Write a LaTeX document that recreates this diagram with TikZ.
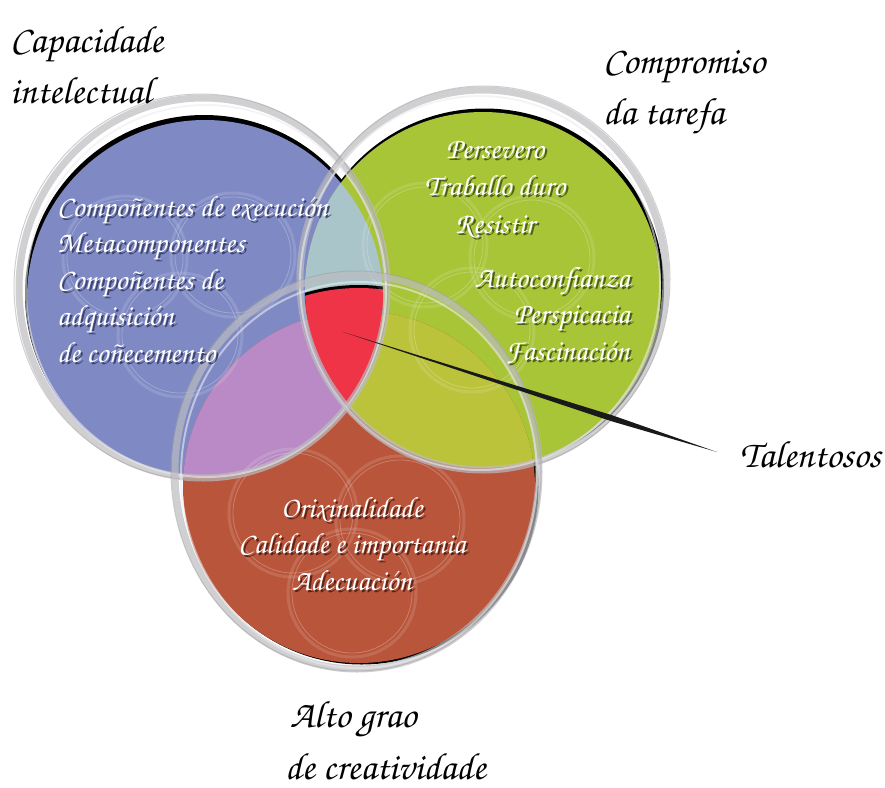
\documentclass[tikz,border=0pt]{standalone}
\usepackage[T1,TU]{fontenc}
\usetikzlibrary{calc}
\definecolor{cblue}{HTML}{7F8AC5}
\definecolor{cgreen}{HTML}{A8C437}
\definecolor{cred}{HTML}{B9553B}
\definecolor{clens}{HTML}{A9C5C9}
\definecolor{cpurple}{HTML}{B98AC5}
\definecolor{colive}{HTML}{BBC33B}
\definecolor{ctri}{HTML}{EE3446}
\definecolor{ringgray}{HTML}{BCBCC1}
\definecolor{shB}{HTML}{3E4470}
\definecolor{shG}{HTML}{4E5E18}
\definecolor{shR}{HTML}{5A2418}
\newcommand\scr{\fontencoding{T1}\fontfamily{pzc}\fontseries{mb}\fontshape{it}\selectfont}
\newcommand\shd[2]{\makebox[0pt][l]{\hspace{2pt}\raisebox{-2pt}{\textcolor{#1}{#2}}}#2}
\tikzset{
  ring/.style={draw=ringgray, line width=7pt, opacity=0.7},
  ringthin/.style={draw=gray!75, line width=1pt, opacity=0.5},
  ringlight/.style={draw=white!85!gray, line width=2pt, opacity=0.6},
  faint/.style={draw=white, line width=3pt, opacity=0.13},
  faintthin/.style={draw=white, line width=0.8pt, opacity=0.25},
  outer/.style={inner sep=0pt, text=black, font=\scr\fontsize{38}{40}\selectfont},
  intext/.style={inner sep=0pt, text=white, font=\scr\fontsize{29.5}{32}\selectfont},
}
\begin{document}
\begin{tikzpicture}[x=1pt,y=-1pt]
\useasboundingbox (0,0) rectangle (885,787);
% centres
\coordinate (cB) at (205,298);
\coordinate (cG) at (483,290);
\coordinate (cR) at (359,487);
\coordinate (cT) at (359,478);
% black shadow crescents
\fill[black] ($(cB)+(-1,-4)$) circle [radius=179];
\fill[black] ($(cG)+(1.5,-2)$) circle [radius=179.5];
\fill[black] ($(cR)+(2.5,0.5)$) circle [radius=177];
% main fills
\fill[cblue] (cB) circle [radius=178];
\fill[cgreen] (cG) circle [radius=178];
\fill[cred] (cR) circle [radius=176];
% overlaps
\begin{scope}
  \clip (cB) circle [radius=178];
  \fill[cpurple] (cR) circle [radius=176];
\end{scope}
\begin{scope}
  \clip (cG) circle [radius=178];
  \fill[colive] (cR) circle [radius=176];
\end{scope}
\begin{scope}
  \clip (cB) circle [radius=178];
  \clip (cG) circle [radius=178];
  \fill[clens] (cG) circle [radius=178];
  \fill[black] ($(cT)+(0,-3)$) circle [radius=190];
  \fill[ctri] (cT) circle [radius=190];
\end{scope}
% faint decorative circles
\foreach \p in {(125,258),(233,255),(180,335)} {\draw[faint] \p circle [radius=62]; \draw[faintthin] \p circle [radius=58];}
\foreach \p in {(425,245),(532,258),(472,330)} {\draw[faint] \p circle [radius=62]; \draw[faintthin] \p circle [radius=58];}
\foreach \p in {(293,513),(400,520),(352,593)} {\draw[faint] \p circle [radius=64]; \draw[faintthin] \p circle [radius=60];}
% rings
\draw[ring] (203,288) ellipse [x radius=184, y radius=190];
\draw[ringlight] (206,291) ellipse [x radius=180, y radius=186];
\draw[ringthin] (201,287) ellipse [x radius=187, y radius=193];
\draw[ring] (483,280) ellipse [x radius=183, y radius=190];
\draw[ringlight] (480,283) ellipse [x radius=180, y radius=187];
\draw[ringthin] (484,279) ellipse [x radius=186, y radius=193];
\draw[ring] (357,472) ellipse [x radius=182, y radius=197];
\draw[ringlight] (359,475) ellipse [x radius=178, y radius=193];
\draw[ringthin] (356,471) ellipse [x radius=185, y radius=200];
% pointer
\coordinate (tp) at (343,332);
\coordinate (te) at (717,452);
\fill[black!90] (tp) -- ($(tp)!0.72!(te)+(-0.9,2.8)$) -- (te) -- ($(tp)!0.72!(te)+(0.9,-2.8)$) -- cycle;
% inner texts
\foreach \t [count=\i] in {Compoñentes de execución,Metacomponentes,Compoñentes de,adquisición,de coñecemento}
  \node[intext, anchor=base west] (b\i) at (57,{216+36.5*(\i-1)}) {\shd{shB}{\t}};
\foreach \t [count=\i] in {Persevero,Traballo duro,Resistir}
  \node[intext, anchor=base] (g\i) at (495,{158+37.5*(\i-1)}) {\shd{shG}{\t}};
\foreach \t [count=\i] in {Autoconfianza,Perspicacia,Fascinación}
  \node[intext, anchor=base east] (h\i) at (630,{287+36.5*(\i-1)}) {\shd{shG}{\t}};
\foreach \t [count=\i] in {Orixinalidade,Calidade e importania,Adecuación}
  \node[intext, anchor=base] (r\i) at (352,{517+36.5*(\i-1)}) {\shd{shR}{\t}};
% outer labels
\node[outer, anchor=base west] (l1) at (10,52) {Capacidade};
\node[outer, anchor=base west] (l2) at (10,103) {intelectual};
\node[outer, anchor=base west] (l3) at (603,73) {Compromiso};
\node[outer, anchor=base west] (l4) at (603,124) {da tarefa};
\node[outer, anchor=base west] (tal) at (740,467) {Talentosos};
\node[outer, anchor=base west] (l5) at (290,727) {Alto grao};
\node[outer, anchor=base west] (l6) at (285,779) {de creatividade};
\end{tikzpicture}
\end{document}
